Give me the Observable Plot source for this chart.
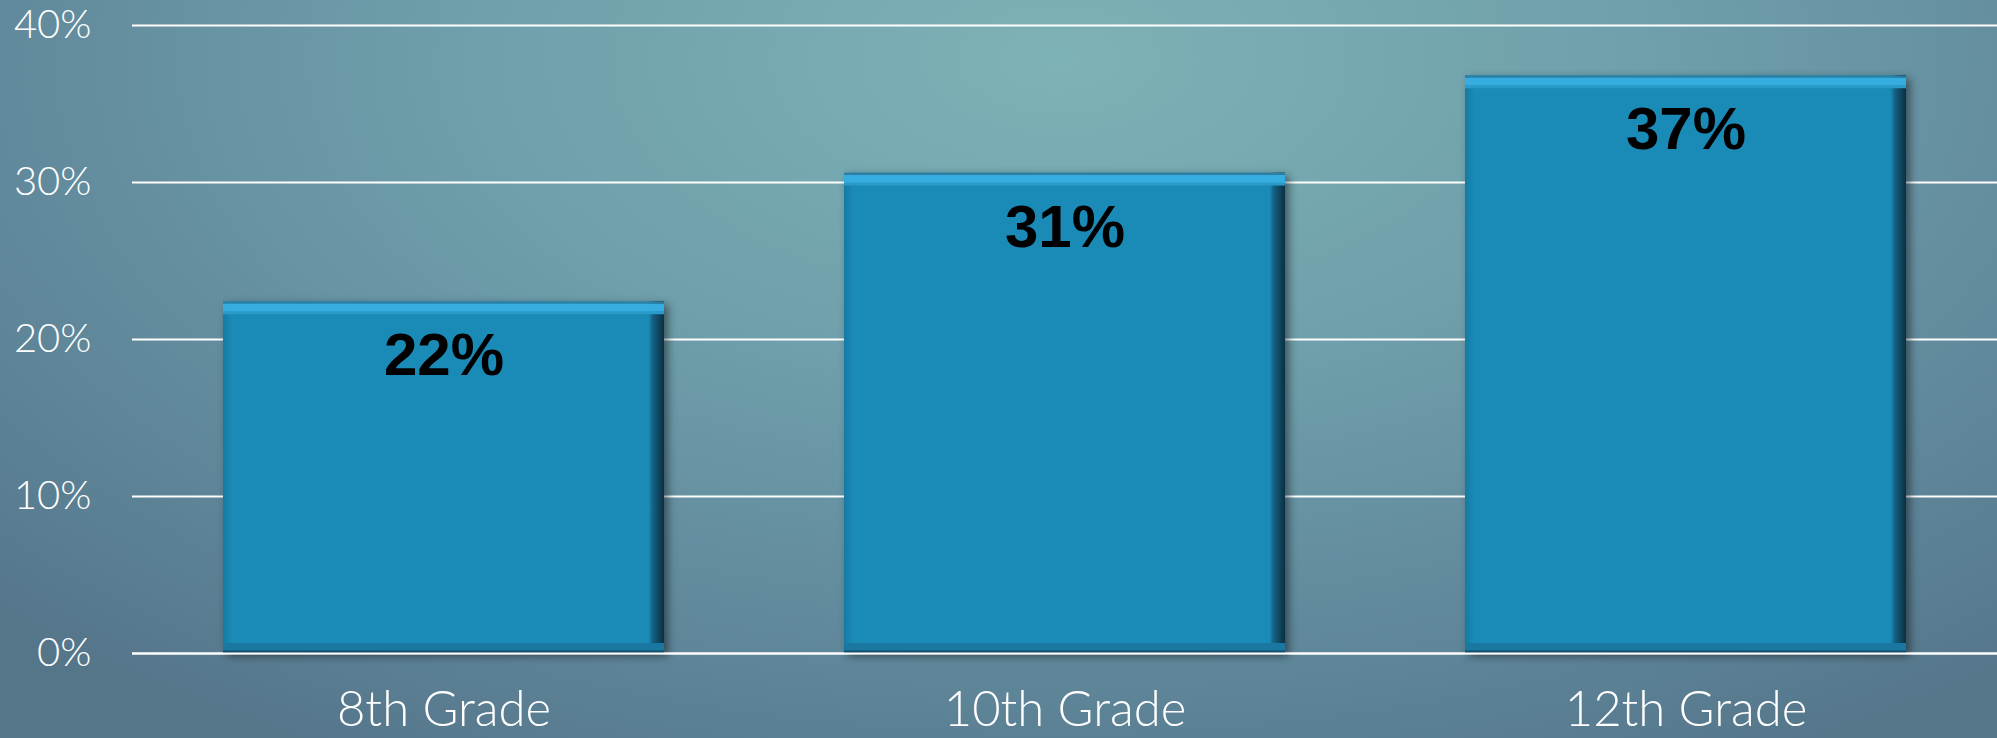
<!DOCTYPE html>
<html>
<head>
<meta charset="utf-8">
<script src="https://cdn.jsdelivr.net/npm/d3@7"></script>
<script src="https://cdn.jsdelivr.net/npm/@observablehq/plot@0.6"></script>
<style>
  html, body { margin: 0; padding: 0; }
  body {
    width: 1997px; height: 738px; overflow: hidden;
    background: radial-gradient(ellipse 75% 110% at 53% 8%, #7db2b6 0%, #6f9fab 40%, #5d8397 80%, #557589 100%);
  }
  #chart svg { display: block; }
</style>
</head>
<body>
<svg width="0" height="0" style="position:absolute">
  <defs>
    <linearGradient id="barGrad" x1="0" y1="0" x2="1" y2="0">
      <stop offset="0" stop-color="#157aa3"/>
      <stop offset="0.02" stop-color="#1a8ab7"/>
      <stop offset="0.965" stop-color="#1a8ab7"/>
      <stop offset="0.975" stop-color="#145f80"/>
      <stop offset="1" stop-color="#0b2f42"/>
    </linearGradient>
  </defs>
</svg>
<div id="chart"></div>
<script>
const grades = ["8th Grade", "10th Grade", "12th Grade"];
const values = [22.4, 30.6, 36.8];
const labels = ["22%", "31%", "37%"];
const yTicks = [0, 10, 20, 30, 40];

const data = grades.map((g, i) => ({grade: g, value: values[i], label: labels[i]}));

const plot = Plot.plot({
  width: 1997,
  height: 738,
  marginLeft: 132,
  marginRight: 0,
  marginTop: 25,
  marginBottom: 85,
  style: {background: "transparent", color: "white", fontFamily: "Lato, 'Open Sans', sans-serif", overflow: "visible"},
  x: {domain: grades, paddingInner: 0.29, paddingOuter: 0.145, label: null},
  y: {domain: [0, 40], label: null},
  marks: [
    Plot.gridY(yTicks, {stroke: "white", strokeOpacity: 1, strokeWidth: 2}),
    Plot.barY(data, {x: "grade", y: "value", fill: "url(#barGrad)"}),
    Plot.tickY(data, {x: "grade", y: "value", stroke: "#2e7fa3", strokeWidth: 2, dy: 1}),
    Plot.tickY(data, {x: "grade", y: "value", stroke: "#36ade0", strokeWidth: 8, dy: 6}),
    Plot.tickY(data, {x: "grade", y: "value", stroke: "#2a9bc9", strokeWidth: 3, dy: 11}),
    Plot.tickY(data, {x: "grade", y: 0, stroke: "#1977a0", strokeWidth: 9, dy: -6}),
    Plot.tickY(data, {x: "grade", y: 0, stroke: "#124f6c", strokeWidth: 3, dy: -1.5}),
    Plot.text(data, {x: "grade", y: "value", text: "label", lineAnchor: "top", dy: 31,
      fill: "black", fontSize: 60, fontWeight: "bold", fontFamily: "'Liberation Sans', Arial, sans-serif"}),
    Plot.axisY(yTicks, {tickSize: 0, tickPadding: 41, fontSize: 40, fontWeight: 300,
      tickFormat: d => d + "%", fill: "white"}),
    Plot.axisX({tickSize: 0, tickPadding: 38, fontSize: 49, fontWeight: 300, fill: "white"}),
    Plot.ruleY([0], {stroke: "white", strokeWidth: 2})
  ]
});
document.getElementById("chart").appendChild(plot);
d3.select(plot).selectAll("g[aria-label='bar']")
  .style("filter", "drop-shadow(4px 3px 4px rgba(0,0,0,0.45))");
</script>
</body>
</html>
